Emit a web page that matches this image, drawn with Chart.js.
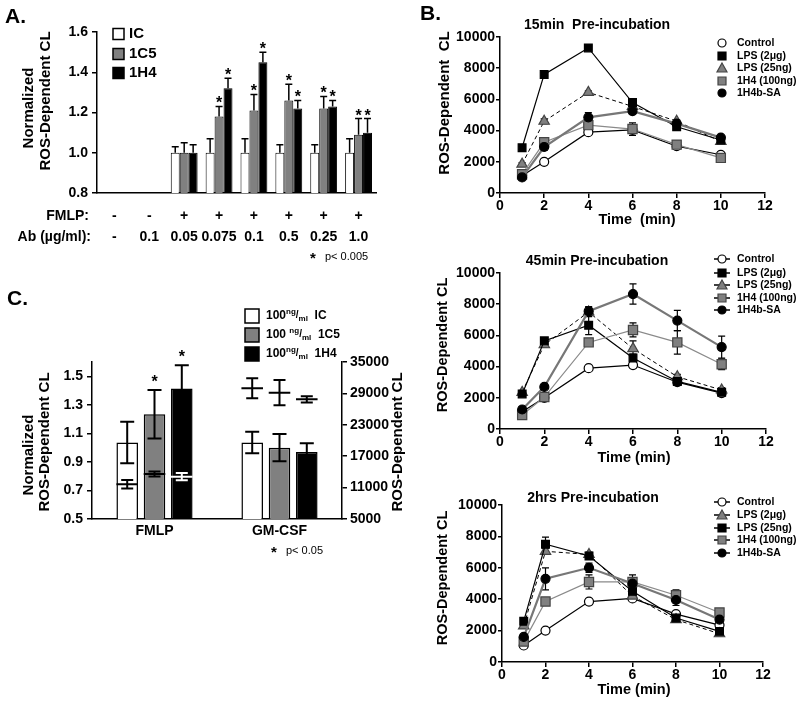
<!DOCTYPE html>
<html>
<head>
<meta charset="utf-8">
<script src="https://cdn.jsdelivr.net/npm/chart.js"></script>
<style>
  body { margin: 0; background: #fff; }
  #page { position: relative; width: 800px; height: 702px; overflow: hidden; }
  canvas { position: absolute; }
</style>
</head>
<body>
<div id="page">
  <canvas id="chartA" width="400" height="300" style="left:0px;top:0px"></canvas>
  <canvas id="chartC" width="410" height="300" style="left:0px;top:280px"></canvas>
  <canvas id="chartB1" width="390" height="235" style="left:410px;top:0px"></canvas>
  <canvas id="chartB2" width="390" height="235" style="left:410px;top:235px"></canvas>
  <canvas id="chartB3" width="390" height="237" style="left:410px;top:465px"></canvas>
</div>
<script>
const FONT = '"Liberation Sans", Arial, Helvetica, sans-serif';
Chart.defaults.font.family = FONT;
Chart.defaults.font.size = 14;
Chart.defaults.font.weight = 'bold';
Chart.defaults.color = '#000';

// panel A
const abDose = ['-', '0.1', '0.05', '0.075', '0.1', '0.5', '0.25', '1.0'];
const fmlpSign = ['-', '-', '+', '+', '+', '+', '+', '+'];
const aIC   = [0.8, 0.8, 1.00, 1.00, 1.00, 1.00, 1.00, 1.00];
const a1C5  = [0.8, 0.8, 1.00, 1.18, 1.21, 1.26, 1.22, 1.09];
const a1H4  = [0.8, 0.8, 1.00, 1.32, 1.45, 1.22, 1.23, 1.10];
const aICErr  = [0, 0, 0.03, 0.07, 0.07, 0.04, 0.04, 0.07];
const a1C5Err = [0, 0, 0.05, 0.05, 0.08, 0.08, 0.06, 0.08];
const a1H4Err = [0, 0, 0.04, 0.05, 0.05, 0.04, 0.03, 0.07];
const a1C5Sig = [0, 0, 0, 1, 1, 1, 1, 1];
const a1H4Sig = [0, 0, 0, 1, 1, 1, 1, 1];

// panel B
const bTime = [1, 2, 4, 6, 8, 10];
// 15 min
const m15Control = [1100, 2000, 3900, 4050, 3000, 2450];
const m15Lps2    = [2900, 7600, 9300, 5800, 4250, 3400];
const m15Lps25   = [1850, 4600, 6450, 5550, 4600, 3300];
const m15H4      = [1200, 3250, 4350, 4100, 3100, 2250];
const m15H4bSA   = [1000, 2950, 4850, 5250, 4450, 3550];
const m15ControlErr = [100, 100, 150, 150, 100, 150];
const m15Lps2Err    = [100, 100, 100, 150, 100, 100];
const m15Lps25Err   = [100, 150, 100, 100, 100, 100];
const m15H4Err      = [150, 300, 250, 400, 200, 200];
const m15H4bSAErr   = [100, 200, 300, 150, 150, 100];
// 45 min
const m45Control = [1100, 2000, 3900, 4100, 3000, 2300];
const m45Lps2    = [2250, 5650, 6650, 4550, 3050, 2350];
const m45Lps25   = [2350, 5400, 7500, 5150, 3350, 2500];
const m45H4      = [900, 2050, 5550, 6350, 5550, 4150];
const m45H4bSA   = [1250, 2700, 7550, 8650, 6950, 5250];
const m45ControlErr = [100, 100, 100, 150, 100, 100];
const m45Lps2Err    = [100, 150, 600, 250, 150, 100];
const m45Lps25Err   = [100, 150, 300, 500, 150, 150];
const m45H4Err      = [150, 150, 150, 450, 750, 350];
const m45H4bSAErr   = [100, 100, 300, 650, 650, 700];
// 2 hrs
const h2Control = [1050, 2000, 3850, 4050, 3050, 2350];
const h2Lps2    = [2300, 7050, 6850, 4200, 2700, 1800];
const h2Lps25   = [2600, 7500, 6750, 4500, 2800, 1950];
const h2H4      = [1300, 3850, 5100, 5100, 4250, 3150];
const h2H4bSA   = [1600, 5300, 6000, 5000, 3950, 2700];
const h2ControlErr = [100, 100, 100, 100, 100, 150];
const h2Lps2Err    = [150, 200, 150, 200, 150, 150];
const h2Lps25Err   = [150, 450, 200, 250, 150, 150];
const h2H4Err      = [150, 200, 450, 450, 350, 200];
const h2H4bSAErr   = [150, 700, 300, 300, 350, 200];

// panel C
const cGroups = ['FMLP', 'GM-CSF'];
const cLeftTicks = [0.5, 0.7, 0.9, 1.1, 1.3, 1.5];
const cIC    = [1.036, 1.036];
const c1C5   = [1.234, 1.00];
const c1H4   = [1.414, 0.97];
const cICErr  = [0.145, 0.075];
const c1C5Err = [0.17, 0.095];
const c1H4Err = [0.163, 0.06];
const c1C5Sig = [1, 0];
const c1H4Sig = [1, 0];
// absolute CL, right axis
const clIC    = [11630, 29980];
const cl1C5   = [13600, 29140];
const cl1H4   = [13090, 27870];
const clICErr  = [800, 1900];
const cl1C5Err = [500, 2400];
const cl1H4Err = [700, 600];

const axisGrid = { drawOnChartArea: false, color: '#000', lineWidth: 1.5, tickLength: 5 };
const axisBorder = { color: '#000', width: 1.5 };

function drawMark(ctx, shape, x, y, r, fill, stroke, lw) {
  ctx.save();
  ctx.beginPath();
  if (shape === 'circle') ctx.arc(x, y, r, 0, Math.PI * 2);
  else if (shape === 'rect') ctx.rect(x - r, y - r, r * 2, r * 2);
  else { ctx.moveTo(x, y - r); ctx.lineTo(x + r, y + r * 0.8); ctx.lineTo(x - r, y + r * 0.8); ctx.closePath(); }
  ctx.fillStyle = fill; ctx.fill();
  ctx.lineWidth = lw || 1.2; ctx.strokeStyle = stroke; ctx.stroke();
  ctx.restore();
}

function drawErrors(chart) {
  const ctx = chart.ctx;
  chart.data.datasets.forEach((ds, i) => {
    if (!ds.err) return;
    const meta = chart.getDatasetMeta(i);
    const ys = chart.scales[meta.yAxisID];
    const cap = (ds.errCap || 7) / 2;
    ctx.save();
    ctx.strokeStyle = '#000';
    ctx.lineWidth = ds.errWidth || 1.5;
    meta.data.forEach((el, j) => {
      const raw = ds.data[j];
      const v = (raw && typeof raw === 'object') ? raw.y : raw;
      const e = ds.err[j];
      if (e) {
        const yt = ys.getPixelForValue(v + e);
        const yb = ys.getPixelForValue(ds.errUp ? v : v - e);
        ctx.beginPath();
        ctx.moveTo(el.x, yt); ctx.lineTo(el.x, yb);
        ctx.moveTo(el.x - cap, yt); ctx.lineTo(el.x + cap, yt);
        if (!ds.errUp) { ctx.moveTo(el.x - cap, yb); ctx.lineTo(el.x + cap, yb); }
        ctx.stroke();
      }
      if (ds.sig && ds.sig[j]) {
        ctx.fillStyle = '#000';
        ctx.font = 'bold 16px ' + FONT;
        ctx.textAlign = 'center';
        ctx.textBaseline = 'alphabetic';
        ctx.fillText('*', el.x, ys.getPixelForValue(v + e) + ds.starDy);
      }
    });
    ctx.restore();
  });
}

function drawCl(chart) {
  const ctx = chart.ctx;
  chart.data.datasets.forEach((ds, i) => {
    if (!ds.cl) return;
    const meta = chart.getDatasetMeta(i);
    const y1 = chart.scales.y1;
    ctx.save();
    ctx.lineWidth = 2;
    meta.data.forEach((el, j) => {
      const col = Array.isArray(ds.clColor) ? ds.clColor[j] : ds.clColor;
      const ym = y1.getPixelForValue(ds.cl[j]);
      const ya = y1.getPixelForValue(ds.cl[j] + ds.clErr[j]);
      const yb = y1.getPixelForValue(ds.cl[j] - ds.clErr[j]);
      const hw = el.width / 2;
      ctx.strokeStyle = col;
      ctx.beginPath();
      ctx.moveTo(el.x - hw, ym); ctx.lineTo(el.x + hw, ym);
      ctx.moveTo(el.x, ya); ctx.lineTo(el.x, yb);
      ctx.moveTo(el.x - 6, ya); ctx.lineTo(el.x + 6, ya);
      ctx.moveTo(el.x - 6, yb); ctx.lineTo(el.x + 6, yb);
      ctx.stroke();
    });
    ctx.restore();
  });
}

function drawDeco(chart, deco) {
  const ctx = chart.ctx;
  ctx.save();
  ctx.fillStyle = '#000';
  ctx.textBaseline = 'middle';
  (deco.rows || []).forEach(r => {
    ctx.font = 'bold 14px ' + FONT;
    ctx.textAlign = 'right';
    ctx.fillText(r.head, r.hx, r.y);
    ctx.textAlign = 'center';
    r.labels.forEach((lab, j) => ctx.fillText(lab, chart.scales.x.getPixelForValue(j), r.y));
  });
  (deco.texts || []).forEach(o => {
    ctx.save();
    ctx.translate(o.x, o.y);
    if (o.rot) ctx.rotate(o.rot * Math.PI / 180);
    ctx.font = (o.w || 'bold') + ' ' + (o.s || 14) + 'px ' + FONT;
    ctx.textAlign = o.a || 'center';
    ctx.fillText(o.t, 0, 0);
    ctx.restore();
  });
  const L = deco.legend;
  if (L) {
    L.items.forEach(it => {
      if (it.stub) {
        ctx.save();
        ctx.strokeStyle = it.line; ctx.lineWidth = 1.5;
        ctx.beginPath(); ctx.moveTo(L.mx - 8, it.y); ctx.lineTo(L.mx + 8, it.y); ctx.stroke();
        ctx.restore();
      }
      drawMark(ctx, it.shape, L.mx, it.y, it.r, it.fill, it.stroke, it.lw);
      ctx.textAlign = 'left';
      if (it.parts) {
        let cx = L.tx;
        it.parts.forEach(p => {
          ctx.font = 'bold ' + p[1] + 'px ' + FONT;
          ctx.fillText(p[0], cx, it.y + p[2]);
          cx += ctx.measureText(p[0]).width;
        });
      } else {
        ctx.font = 'bold ' + L.s + 'px ' + FONT;
        ctx.fillText(it.text, L.tx, it.y);
      }
    });
  }
  ctx.restore();
}

function extras(deco) {
  return {
    id: 'extras',
    beforeDatasetsDraw(chart) { if (deco.errBehind) drawErrors(chart); },
    afterDatasetsDraw(chart) { if (!deco.errBehind) drawErrors(chart); drawCl(chart); },
    afterDraw(chart) { drawDeco(chart, deco); }
  };
}

// ---------- A ----------
new Chart(document.getElementById('chartA'), {
  type: 'bar',
  data: {
    labels: abDose,
    datasets: [
      { data: aIC, err: aICErr, errUp: true, backgroundColor: '#fff', borderColor: '#000', borderWidth: 1 },
      { data: a1C5, err: a1C5Err, errUp: true, sig: a1C5Sig, starDy: 2, backgroundColor: '#808080', borderColor: '#000', borderWidth: 1 },
      { data: a1H4, err: a1H4Err, errUp: true, sig: a1H4Sig, starDy: 2, backgroundColor: '#000', borderColor: '#000', borderWidth: 1 }
    ]
  },
  options: {
    animation: false, responsive: false, events: [],
    layout: { padding: { left: 0, top: 32, right: 24, bottom: 0 } },
    datasets: { bar: { categoryPercentage: 0.77, barPercentage: 1 } },
    scales: {
      x: { grid: { display: false }, border: axisBorder, ticks: { display: false }, afterFit: s => { s.height = 107; } },
      y: { min: 0.8, max: 1.6, ticks: { stepSize: 0.2, padding: 4, callback: v => v.toFixed(1) },
           grid: axisGrid, border: axisBorder, afterFit: s => { s.width = 97; } }
    },
    plugins: { legend: { display: false }, tooltip: { enabled: false } }
  },
  plugins: [extras({
    rows: [
      { y: 216, head: 'FMLP:', hx: 89, labels: fmlpSign },
      { y: 237, head: 'Ab (µg/ml):', hx: 91, labels: abDose }
    ],
    texts: [
      { t: 'A.', x: 5, y: 17, s: 21, a: 'left' },
      { t: 'Normalized', x: 29, y: 108, s: 15, rot: -90 },
      { t: 'ROS-Dependent CL', x: 46, y: 101, s: 15, rot: -90 },
      { t: '*', x: 313, y: 259, s: 15 },
      { t: 'p< 0.005', x: 325, y: 257, s: 11, w: 'normal', a: 'left' }
    ],
    legend: { mx: 118.5, tx: 129, s: 15, items: [
      { y: 34, shape: 'rect', r: 5.5, fill: '#fff', stroke: '#000', lw: 1.5, text: 'IC' },
      { y: 54, shape: 'rect', r: 5.5, fill: '#808080', stroke: '#000', lw: 1.5, text: '1C5' },
      { y: 73, shape: 'rect', r: 5.5, fill: '#000', stroke: '#000', lw: 1.5, text: '1H4' }
    ] }
  })]
});

// ---------- B ----------
const styControl = { shape: 'circle', r: 4.5, fill: '#fff', stroke: '#000', line: '#000', lw: 1.2, order: 4 };
const styBlackSq = { shape: 'rect', r: 5.5, fill: '#000', stroke: '#000', line: '#000', lw: 1.2, order: 2 };
const styGrayTri = { shape: 'triangle', r: 6, fill: '#808080', stroke: '#444', line: '#000', lw: 1, dash: [4, 3], order: 3 };
const styGraySq  = { shape: 'rect', r: 6.5, fill: '#808080', stroke: '#444', line: '#8a8a8a', lw: 1.2, order: 1 };
const styBlackCi = { shape: 'circle', r: 4.5, fill: '#000', stroke: '#000', line: '#777', lw: 2.2, order: 0 };

function series(name, values, err, sty) {
  return { name, values, err, sty };
}

function timeChart(id, list, box, deco) {
  const legendR = { circle: 4, rect: 4, triangle: 5 };
  deco.errBehind = true;
  deco.legend = { mx: 312, tx: 327, s: 10.5, items: list.map((s, k) => ({
    y: box.rows[k], shape: s.sty.shape, r: legendR[s.sty.shape],
    fill: s.sty.fill, stroke: s.sty.stroke, line: '#000', stub: box.stub, text: s.name
  })) };
  return new Chart(document.getElementById(id), {
    type: 'line',
    data: {
      datasets: list.map(s => ({
        data: bTime.map((t, k) => ({ x: t, y: s.values[k] })),
        err: s.err, errWidth: 1.2, errCap: 7,
        order: s.sty.order,
        borderColor: s.sty.line, borderWidth: s.sty.lw, borderDash: s.sty.dash || [],
        pointStyle: s.sty.shape, pointRadius: s.sty.r,
        pointBackgroundColor: s.sty.fill, pointBorderColor: s.sty.stroke, pointBorderWidth: 1.2,
        tension: 0, fill: false
      }))
    },
    options: {
      animation: false, responsive: false, events: [],
      layout: { padding: { left: 0, top: box.top, right: box.right, bottom: 0 } },
      scales: {
        x: { type: 'linear', min: 0, max: 12, ticks: { stepSize: 2, padding: 0 },
             grid: axisGrid, border: axisBorder, afterFit: s => { s.height = box.xh; } },
        y: { min: 0, max: 10000, ticks: { stepSize: 2000, padding: 1, callback: v => String(v) },
             grid: { ...axisGrid, tickLength: 4 }, border: axisBorder, afterFit: s => { s.width = box.yw; } }
      },
      plugins: { legend: { display: false }, tooltip: { enabled: false } }
    },
    plugins: [extras(deco)]
  });
}

timeChart('chartB1', [
  series('Control', m15Control, m15ControlErr, styControl),
  series('LPS (2μg)', m15Lps2, m15Lps2Err, styBlackSq),
  series('LPS (25ng)', m15Lps25, m15Lps25Err, styGrayTri),
  series('1H4 (100ng)', m15H4, m15H4Err, styGraySq),
  series('1H4b-SA', m15H4bSA, m15H4bSAErr, styBlackCi)
], { top: 37, right: 35, xh: 42, yw: 90, rows: [43, 56, 68, 81, 93], stub: false }, {
  texts: [
    { t: 'B.', x: 10, y: 14, s: 21, a: 'left' },
    { t: '15min  Pre-incubation', x: 187, y: 25, s: 14 },
    { t: 'ROS-Dependent  CL', x: 35, y: 103, s: 15, rot: -90 },
    { t: 'Time  (min)', x: 227, y: 220, s: 14.5 }
  ]
});

timeChart('chartB2', [
  series('Control', m45Control, m45ControlErr, styControl),
  series('LPS (2μg)', m45Lps2, m45Lps2Err, styBlackSq),
  series('LPS (25ng)', m45Lps25, m45Lps25Err, styGrayTri),
  series('1H4 (100ng)', m45H4, m45H4Err, styGraySq),
  series('1H4b-SA', m45H4bSA, m45H4bSAErr, styBlackCi)
], { top: 38, right: 34, xh: 41, yw: 90, rows: [24, 38, 50, 63, 75], stub: true }, {
  texts: [
    { t: '45min Pre-incubation', x: 187, y: 26, s: 14 },
    { t: 'ROS-Dependent CL', x: 33, y: 110, s: 14.5, rot: -90 },
    { t: 'Time (min)', x: 224, y: 223, s: 14.5 }
  ]
});

timeChart('chartB3', [
  series('Control', h2Control, h2ControlErr, styControl),
  series('LPS (2μg)', h2Lps2, h2Lps2Err, styGrayTri),
  series('LPS (25ng)', h2Lps25, h2Lps25Err, styBlackSq),
  series('1H4 (100ng)', h2H4, h2H4Err, styGraySq),
  series('1H4b-SA', h2H4bSA, h2H4bSAErr, styBlackCi)
], { top: 40, right: 37, xh: 40, yw: 92, rows: [37, 50, 63, 75, 88], stub: true }, {
  texts: [
    { t: '2hrs Pre-incubation', x: 183, y: 33, s: 14 },
    { t: 'ROS-Dependent CL', x: 33, y: 113, s: 14.5, rot: -90 },
    { t: 'Time (min)', x: 224, y: 225, s: 14.5 }
  ]
});

// ---------- C ----------
const cLegendParts = (tail, gap) => [['100' + gap, 12, 0], ['ng', 8, -4], ['/', 10, -1], ['ml', 8, 3], ['  ' + tail, 12, 0]];
new Chart(document.getElementById('chartC'), {
  type: 'bar',
  data: {
    labels: cGroups,
    datasets: [
      { data: cIC, err: cICErr, errCap: 14, errWidth: 2, cl: clIC, clErr: clICErr, clColor: '#000',
        backgroundColor: '#fff', borderColor: '#000', borderWidth: 1.5 },
      { data: c1C5, err: c1C5Err, errCap: 14, errWidth: 2, sig: c1C5Sig, starDy: -3, cl: cl1C5, clErr: cl1C5Err, clColor: '#000',
        backgroundColor: '#808080', borderColor: '#000', borderWidth: 1.5 },
      { data: c1H4, err: c1H4Err, errCap: 14, errWidth: 2, sig: c1H4Sig, starDy: -3, cl: cl1H4, clErr: cl1H4Err, clColor: ['#fff', '#000'],
        backgroundColor: '#000', borderColor: '#000', borderWidth: 1.5 }
    ]
  },
  options: {
    animation: false, responsive: false, events: [],
    layout: { padding: { left: 0, top: 82, right: 0, bottom: 0 } },
    datasets: { bar: { categoryPercentage: 0.655, barPercentage: 0.79 } },
    scales: {
      x: { grid: { display: false, drawTicks: false }, border: axisBorder, ticks: { padding: 4 },
           afterFit: s => { s.height = 61; } },
      y: { min: 0.5, max: 1.6, ticks: { padding: 4, callback: v => v.toFixed(1) },
           afterBuildTicks: s => { s.ticks = cLeftTicks.map(v => ({ value: v })); },
           grid: axisGrid, border: axisBorder, afterFit: s => { s.width = 92; } },
      y1: { position: 'right', min: 5000, max: 35000, ticks: { stepSize: 6000, padding: 3, callback: v => String(v) },
            grid: axisGrid, border: axisBorder, afterFit: s => { s.width = 68; } }
    },
    plugins: { legend: { display: false }, tooltip: { enabled: false } }
  },
  plugins: [extras({
    texts: [
      { t: 'C.', x: 7, y: 19, s: 21, a: 'left' },
      { t: 'Normalized', x: 29, y: 175, s: 15, rot: -90 },
      { t: 'ROS-Dependent CL', x: 45, y: 162, s: 15, rot: -90 },
      { t: 'ROS-Dependent CL', x: 398, y: 162, s: 15, rot: -90 },
      { t: '*', x: 274, y: 273, s: 15 },
      { t: 'p< 0.05', x: 286, y: 271, s: 11, w: 'normal', a: 'left' }
    ],
    legend: { mx: 252, tx: 266, s: 12, items: [
      { y: 36, shape: 'rect', r: 7, fill: '#fff', stroke: '#000', lw: 1.5, parts: cLegendParts('IC', '') },
      { y: 55, shape: 'rect', r: 7, fill: '#808080', stroke: '#000', lw: 1.5, parts: cLegendParts('1C5', ' ') },
      { y: 74, shape: 'rect', r: 7, fill: '#000', stroke: '#000', lw: 1.5, parts: cLegendParts('1H4', '') }
    ] }
  })]
});
</script>
</body>
</html>
